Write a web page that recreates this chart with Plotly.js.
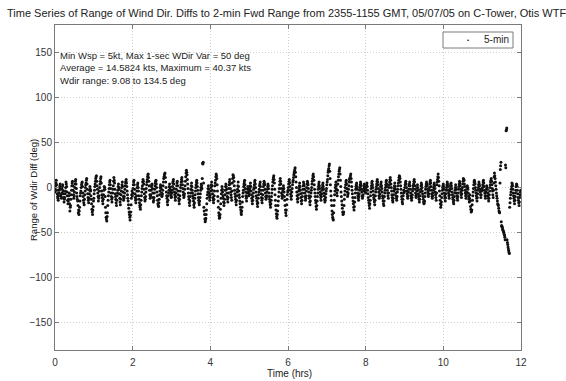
<!DOCTYPE html>
<html>
<head>
<meta charset="utf-8">
<script src="https://cdn.plot.ly/plotly-3.0.1.min.js"></script>
<style>
html,body{margin:0;padding:0;background:#fff;overflow:hidden;}
#chart{width:566px;height:381px;}
</style>
</head>
<body>
<div id="chart"></div>
<script>
// Sampling of the series (hrs): samples on the minute and on the half-minute
const timeStart = 0;
const timeStep = 1 / 60;
const halfOffset = 0.5 / 60;

// Range of Wdir Diff (deg), samples on the minute, hour by hour
const hour00 = [-5, 2, 8, -3, -10, -14, -6, 0, 4, -8, -12, -2, 3, -7, -16, -11, -4, 6, 1, -9, -18, -13, -6, -26, -20, -8, 2, 7, -3, -12, -5, 4, 9, -1, -10, -15, -28, -30, -22, -9, -4, 3, 6, -6, -14, -19, -8, 0, 5, 10, -2, -11, -17, -7, 1, -4, -13, -24, -30, -21];
const hour01 = [-12, -3, 4, 10, 13, 2, -6, -15, -9, 0, 7, 12, -4, -11, -18, -8, 1, -2, -22, -33, -37, -28, -14, -5, 3, 8, -1, -10, -16, -6, 2, 11, 5, -7, -13, -20, -9, -3, 4, -2, -12, -19, -8, 0, 6, -5, -14, -10, -2, 5, 9, 1, -8, -15, -23, -30, -36, -27, -12, -4];
const hour02 = [-6, 3, 8, -2, -11, -17, -9, 0, 5, -4, -13, -20, -24, -14, -5, 2, 9, 4, -7, -15, -10, -1, 6, 12, 15, 7, -3, -12, -8, 1, 4, -6, -16, -11, -2, 5, 8, 0, -9, -18, -21, -13, -4, 3, -1, -10, -7, 2, 10, 14, 16, 6, -5, -12, -19, -9, -3, 4, -2, -8];
const hour03 = [-10, -3, 5, 9, -1, -8, -14, -6, 2, 7, -4, -12, -18, -9, 0, 6, 11, 3, -5, -11, -7, 2, 12, 19, 14, 4, -6, -13, -20, -10, -2, 5, -3, -9, -15, -22, -12, -4, 3, 8, 1, -7, -14, -19, -11, -3, 4, -1, 27, 28, -22, -30, -38, -34, -25, -12, -5, 2, -6, -14];
const hour04 = [-8, 0, 6, -3, -11, -17, -9, 2, 8, 15, 10, -4, -15, -28, -34, -30, -18, -7, 1, -5, -12, -20, -13, -3, 4, -2, -10, -16, -6, 3, 9, -1, -8, -14, 5, 14, 11, 2, -7, -13, -19, -9, -2, 6, -4, -11, -18, -25, -30, -22, -10, -3, 4, 8, -1, -9, -15, -6, 1, -5];
const hour05 = [-7, -1, 5, -4, -12, -18, -10, -2, 3, 8, 0, -9, -15, -21, -12, -5, 2, 6, -3, -11, -17, -8, 1, 7, 3, -6, -13, -9, -2, 4, -1, -10, -16, -22, -14, -6, 2, 9, 13, 5, -8, -20, -29, -34, -26, -15, -5, 3, 10, 4, -6, -12, -4, 2, -5, -14, -25, -31, -19, -8];
const hour06 = [-3, 4, 9, 1, -7, -13, -5, 3, 8, 14, 18, 22, 12, 0, -9, -16, -8, -1, 5, -3, -11, -18, -10, -2, 6, 2, -6, -14, -9, 0, 7, 3, -5, -12, -19, -10, -3, 4, 10, 15, 8, -2, -10, -17, -24, -15, -6, 1, 6, -1, -8, -14, -7, 0, 5, -2, -9, -16, -11, -4];
const hour07 = [3, 9, 17, 21, 26, 10, -4, -14, -26, -33, -36, -20, -8, 0, 6, -2, -9, 4, 12, 18, 22, 8, -5, -15, -23, -30, -27, -13, -4, 3, 8, -1, -10, -6, 2, 9, 11, 15, 6, -3, -11, -18, -25, -16, -6, 1, 5, -2, -9, -14, -7, 0, 6, 2, -5, -12, -8, -1, 4, -3];
const hour08 = [-6, 1, 5, -3, -11, -17, -23, -14, -5, 2, 7, 0, -8, -13, -19, -9, -2, 4, 9, 3, -5, -12, -7, 1, 6, -1, -9, -15, -20, -10, -3, 3, 8, 1, -6, -12, 0, 6, 11, 4, -4, -11, -16, -8, -1, 5, -2, -9, -14, -5, 2, 8, 13, 10, 2, -6, -13, -18, -9, -3];
const hour09 = [-4, 3, 7, 0, -7, -12, -5, 2, 6, -2, -9, -14, -8, -1, 4, 9, 2, -6, -11, -4, 3, -3, -10, -16, -9, -2, 5, 0, -7, -13, -18, -15, -6, 1, 6, 2, -5, -10, -3, 4, 8, 1, -7, -12, -6, 0, 5, -1, -8, -14, 3, 9, 15, 7, -4, -14, -22, -16, -7, 0];
const hour10 = [4, -2, -9, -15, -7, 0, 6, 1, -6, -12, -4, 2, 5, -1, -8, -13, -18, -10, -3, 3, -2, -9, -14, -6, 1, 7, 2, -5, -11, -3, 4, 10, 8, 1, -6, -12, -5, 2, -2, -10, -16, -8, -21, -27, -25, -14, -5, 3, 8, 4, -3, -9, -15, -7, 0, 6, 2, -5, -11, -4];
const hour11 = [-3, 3, 8, 1, -6, -12, -5, 2, -2, -9, -15, -8, 0, 6, 10, 3, -4, -11, 5, 16, 10, 2, -6, -12, -18, -20, -26, -28, 20, 28, -42, -44, -47, -49, -52, -55, 25, 63, 66, -61, -66, -70, -73, -17, -8, -2, 5, 2, -6, -12, -18, -10, -3, 4, 1, -7, -14, -20, -11, -5];

// Range of Wdir Diff (deg), samples on the half-minute, hour by hour
const hour00b = [-2, 5, 3, -7, -12, -9, -3, 2, -1, -10, -6, 1, -4, -11, -13, -7, 0, 4, -5, -14, -15, -9, -18, -22, -13, -3, 5, 2, -8, -9, 0, 7, 4, -6, -13, -20, -25, -26, -15, -6, 0, 5, 1, -10, -17, -13, -4, 3, 8, 4, -7, -14, -12, -3, -2, -9, -18, -27, -25, -15];
const hour01b = [-7, 1, 7, 12, 7, -2, -10, -12, -4, 4, 10, 5, -8, -15, -13, -3, 0, -10, -28, -35, -32, -20, -9, -1, 6, 3, -6, -13, -11, -2, 7, 8, -2, -10, -17, -14, -6, 1, 0, -7, -16, -13, -4, 3, 1, -10, -12, -6, 2, 7, 5, -4, -12, -19, -27, -33, -31, -19, -8, -9];
const hour02b = [-1, 6, 3, -7, -14, -13, -4, 3, 0, -9, -17, -22, -19, -9, -1, 6, 7, -2, -11, -13, -5, 3, 9, 14, 11, 2, -8, -10, -3, 3, -1, -11, -14, -6, 2, 7, 4, -5, -14, -20, -17, -8, 0, 1, -6, -9, -3, 6, 12, 15, 11, 0, -9, -16, -14, -6, 1, 0, -5, -11];
const hour03b = [-6, 1, 7, 4, -5, -11, -10, -2, 5, 2, -8, -15, -13, -4, 3, 9, 7, -1, -8, -9, -2, 7, 16, 17, 9, -1, -10, -17, -15, -6, 2, 1, -6, -12, -19, -17, -8, 0, 6, 5, -3, -11, -17, -15, -7, 0, 2, 10, 26, 5, -26, -35, -36, -30, -18, -8, -1, -2, -10, -11];
const hour04b = [-4, 3, 2, -7, -14, -13, -4, 5, 12, 13, 3, -10, -22, -31, -33, -24, -12, -3, -2, -9, -16, -17, -8, 1, 1, -6, -13, -11, -1, 6, 4, -5, -11, -4, 10, 13, 7, -3, -10, -16, -14, -5, 2, 1, -8, -15, -22, -28, -26, -16, -6, 1, 6, 3, -5, -12, -10, -2, -2, -9];
const hour05b = [-4, 2, 1, -8, -15, -14, -6, 0, 6, 4, -5, -12, -18, -17, -8, -2, 4, 1, -7, -14, -12, -3, 4, 5, -2, -10, -11, -5, 1, 2, -6, -13, -19, -18, -10, -2, 6, 11, 9, -2, -14, -25, -32, -30, -20, -10, -1, 7, 7, -1, -9, -8, -1, -1, -10, -20, -28, -25, -13, -5];
const hour06b = [0, 7, 5, -3, -10, -9, -1, 6, 11, 16, 20, 17, 6, -5, -13, -12, -4, 2, 1, -7, -15, -14, -6, 2, 4, -2, -10, -12, -4, 4, 5, -1, -9, -16, -15, -6, 0, 7, 13, 12, 3, -6, -14, -21, -20, -10, -2, 4, 2, -5, -11, -10, -3, 3, 1, -6, -13, -14, -7, -1];
const hour07b = [6, 13, 19, 24, 18, 3, -9, -20, -30, -35, -28, -14, -4, 3, 2, -6, -3, 8, 15, 20, 15, 1, -10, -19, -27, -29, -20, -8, 0, 6, 4, -5, -8, -2, 6, 10, 13, 10, 1, -7, -15, -22, -21, -11, -2, 3, 1, -6, -12, -10, -3, 3, 4, -2, -9, -10, -4, 2, 0, -5];
const hour08b = [-2, 3, 1, -7, -14, -20, -18, -9, -1, 5, 3, -4, -11, -16, -14, -5, 1, 7, 6, -1, -9, -10, -3, 4, 2, -5, -12, -18, -15, -6, 0, 6, 4, -3, -9, -6, 3, 9, 8, 0, -8, -14, -12, -4, 2, 1, -6, -12, -10, -2, 5, 11, 12, 6, -2, -10, -16, -13, -6, -5];
const hour09b = [0, 5, 4, -4, -10, -9, -2, 4, 2, -6, -12, -11, -4, 2, 7, 6, -2, -9, -8, 0, 0, -7, -13, -13, -5, 2, 3, -4, -10, -16, -17, -10, -2, 4, 4, -2, -8, -7, 0, 6, 5, -3, -10, -9, -3, 3, 2, -5, -11, -6, 6, 12, 11, 2, -9, -18, -19, -11, -3, 2];
const hour10b = [1, -6, -12, -11, -3, 3, 4, -3, -9, -8, -1, 4, 2, -5, -11, -16, -14, -6, 0, 0, -6, -12, -10, -2, 4, 5, -2, -8, -7, 0, 7, 9, 4, -3, -9, -8, -1, 0, -6, -13, -12, -15, -24, -26, -19, -9, -1, 6, 6, 0, -6, -12, -11, -3, 3, 4, -2, -8, -8, -1];
const hour11b = [0, 6, 5, -3, -9, -9, -2, 0, -6, -12, -12, -4, 3, 8, 7, -1, -8, -3, 12, 13, 6, -2, -9, -15, -19, -23, -27, 5, 24, -38, -43, -46, -48, -50, -53, -58, 22, 64, -58, -63, -68, -72, -22, -12, -5, 1, 4, -2, -9, -15, -14, -6, 1, 3, -3, -11, -17, -16, -8, -3];

const yTicks = [-150, -100, -50, 0, 50, 100, 150];
const xTicks = [0, 2, 4, 6, 8, 10, 12];
const seriesName = '5-min';

const titleText = 'Time Series of Range of Wind Dir. Diffs to 2-min Fwd Range from 2355-1155 GMT, 05/07/05 on C-Tower, Otis WTF';
const xTitle = 'Time (hrs)';
const yTitle = 'Range of Wdir Diff (deg)';
const infoLines = [
  'Min Wsp = 5kt, Max 1-sec WDir Var = 50 deg',
  'Average = 14.5824 kts, Maximum = 40.37 kts',
  'Wdir range: 9.08 to 134.5 deg'
];

const onMinute = [].concat(hour00, hour01, hour02, hour03, hour04, hour05, hour06, hour07, hour08, hour09, hour10, hour11);
const onHalf = [].concat(hour00b, hour01b, hour02b, hour03b, hour04b, hour05b, hour06b, hour07b, hour08b, hour09b, hour10b, hour11b);
const xs = onMinute.map((v, i) => timeStart + i * timeStep).concat(onHalf.map((v, i) => timeStart + i * timeStep + halfOffset));
const ys = onMinute.concat(onHalf);

const font = 'Arial, "Liberation Sans", sans-serif';

const trace = {
  x: xs, y: ys, type: 'scatter', mode: 'markers', name: seriesName, showlegend: false,
  marker: {color: '#111', size: 3, symbol: 'circle'}
};

const axisCommon = {
  showline: true, linecolor: '#7a7a7a', linewidth: 1, mirror: 'ticks',
  ticks: 'inside', ticklen: 4, tickcolor: '#7a7a7a',
  showgrid: true, gridcolor: '#cfcfcf', griddash: '1px,2px', gridwidth: 1,
  zeroline: false, tickfont: {family: font, size: 10, color: '#333'}
};

// plot area in pixels: left 55, right 521, top 25, bottom 350
const L = 55, W = 466, T = 25, H = 325;
const px2x = p => (p - L) / W;
const py2y = p => (T + H - p) / H;

const layout = {
  width: 566, height: 381,
  margin: {l: L, r: 566 - L - W, t: T, b: 381 - T - H},
  paper_bgcolor: '#fff', plot_bgcolor: '#fff',
  font: {family: font, color: '#222'},
  title: {text: titleText, x: 7/566, xanchor: 'left', xref: 'container', y: 1 - 13/381, yanchor: 'middle', yref: 'container',
    font: {family: font, size: 11, color: '#222'}},
  xaxis: Object.assign({}, axisCommon, {range: [0, 12], tickvals: xTicks, ticklabelstandoff: 3}),
  yaxis: Object.assign({}, axisCommon, {range: [-180, 180], tickvals: yTicks}),
  showlegend: false,
  shapes: [
    {type: 'rect', xref: 'paper', yref: 'paper', x0: px2x(443), x1: px2x(513), y0: py2y(48), y1: py2y(32),
      line: {color: '#7a7a7a', width: 1}, fillcolor: '#fff', layer: 'above'}
  ],
  annotations: [
    {text: infoLines.join('<br>'), x: 0.07, y: 155, xref: 'x', yref: 'y', xanchor: 'left', yanchor: 'top', align: 'left',
      showarrow: false, font: {family: font, size: 9.5, color: '#222'}},
    {text: '•', x: px2x(468), y: py2y(40), xref: 'paper', yref: 'paper', xanchor: 'center', yanchor: 'middle',
      showarrow: false, font: {family: font, size: 6, color: '#111'}},
    {text: seriesName, x: px2x(511), y: py2y(40), xref: 'paper', yref: 'paper', xanchor: 'right', yanchor: 'middle',
      showarrow: false, font: {family: font, size: 10, color: '#222'}},
    {text: yTitle, x: px2x(33), y: py2y(190), xref: 'paper', yref: 'paper', xanchor: 'center', yanchor: 'middle', textangle: -90,
      showarrow: false, font: {family: font, size: 9.5, color: '#222'}},
    {text: xTitle, x: px2x(289), y: py2y(373), xref: 'paper', yref: 'paper', xanchor: 'center', yanchor: 'middle',
      showarrow: false, font: {family: font, size: 10, color: '#222'}}
  ]
};

Plotly.newPlot('chart', [trace], layout, {staticPlot: true, displayModeBar: false});
</script>
</body>
</html>
